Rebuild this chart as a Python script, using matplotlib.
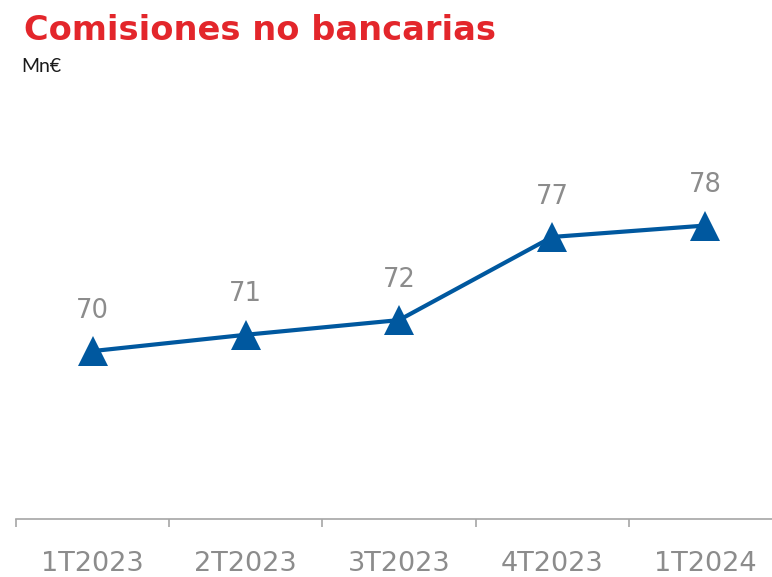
import numpy as np
import matplotlib.pyplot as plt

# Datos
trimestres = ["1T2023", "2T2023", "3T2023", "4T2023", "1T2024"]
comisiones = [70.0, 71.0, 71.9, 77.0, 77.7]
etiquetas = ["70", "71", "72", "77", "78"]

azul = "#00589f"
gris = "#8c8c8c"

fig = plt.figure(figsize=(7.72, 5.77), dpi=100)
ax = fig.add_axes([16 / 772, 58 / 577, 766 / 772, 419 / 577])

x = np.arange(len(trimestres))
ax.plot(x, comisiones, color=azul, linewidth=3, marker="^", markersize=21,
        markeredgewidth=0, markerfacecolor=azul)

for xi, yi, txt in zip(x, comisiones, etiquetas):
    ax.annotate(txt, (xi, yi), xytext=(0, 29), textcoords="offset points",
                ha="center", va="center", fontsize=18.5, color=gris)

ax.set_xlim(-0.5, 4.5)
ax.set_ylim(59.7, 85.4)

# Ejes
for lado in ["top", "right", "left"]:
    ax.spines[lado].set_visible(False)
ax.spines["bottom"].set_color("#a6a6a6")
ax.spines["bottom"].set_linewidth(1.2)
ax.set_yticks([])
ax.set_xticks(x)
ax.set_xticklabels(trimestres, fontsize=19.5, color=gris)
ax.tick_params(axis="x", which="major", length=0, pad=23)
ax.set_xticks(np.arange(-0.5, 5, 1), minor=True)
ax.tick_params(axis="x", which="minor", length=6, width=1.2, color="#a6a6a6")

# Titulos
fig.text(24 / 772, 1 - 30 / 577, "Comisiones no bancarias", fontsize=24.2,
         fontweight="bold", color="#e3262b", va="center", ha="left")
fig.text(21 / 772, 1 - 66 / 577, "Mn€", fontsize=14, color="#1a1a1a",
         family=["Lato", "DejaVu Sans"], fontweight="normal",
         va="center", ha="left")

fig.savefig("out.png", dpi=100)
